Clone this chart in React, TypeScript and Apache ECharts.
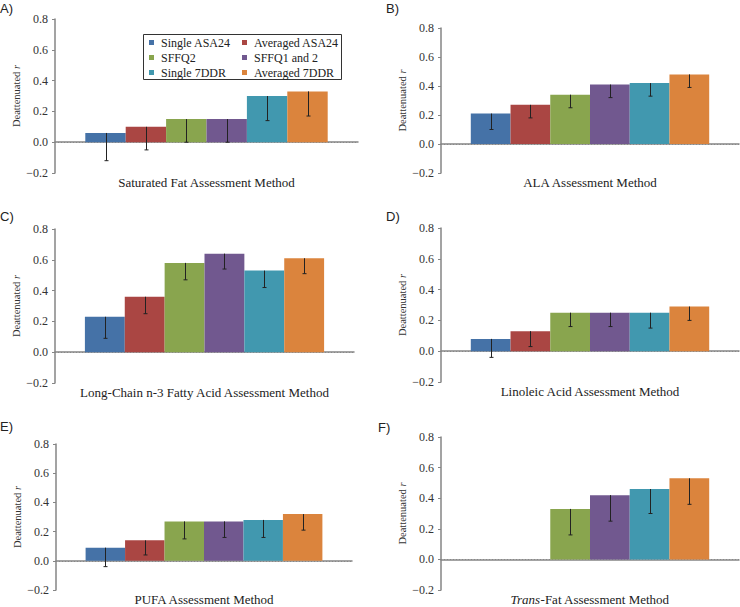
import React, { useEffect, useRef } from "react";
import * as echarts from "echarts";

const methods = ["Single ASA24", "Averaged ASA24", "SFFQ2", "SFFQ1 and 2", "Single 7DDR", "Averaged 7DDR"];
const colors = ["#4572A7", "#AA4643", "#89A54E", "#71588F", "#4198AF", "#DB843D"];

const panelLabels = ["A)", "B)", "C)", "D)", "E)", "F)"];
const axisTitles = [
  "Saturated Fat Assessment Method",
  "ALA Assessment Method",
  "Long-Chain n-3 Fatty Acid Assessment Method",
  "Linoleic Acid Assessment Method",
  "PUFA Assessment Method",
  "{i|Trans}-Fat Assessment Method",
];

// point estimates and lower CI bounds, per panel (null = not assessed)
const satFat = [0.06, 0.1, 0.15, 0.15, 0.3, 0.33];
const satFatLower = [-0.12, -0.05, 0.0, 0.0, 0.14, 0.17];
const ala = [0.21, 0.27, 0.34, 0.41, 0.42, 0.48];
const alaLower = [0.1, 0.18, 0.25, 0.32, 0.33, 0.39];
const lcn3 = [0.23, 0.36, 0.58, 0.64, 0.53, 0.61];
const lcn3Lower = [0.09, 0.25, 0.47, 0.54, 0.42, 0.51];
const linoleic = [0.08, 0.13, 0.25, 0.25, 0.25, 0.29];
const linoleicLower = [-0.04, 0.03, 0.16, 0.16, 0.15, 0.2];
const pufa = [0.09, 0.14, 0.27, 0.27, 0.28, 0.32];
const pufaLower = [-0.04, 0.04, 0.15, 0.16, 0.16, 0.21];
const transFat = [null, null, 0.33, 0.42, 0.46, 0.53];
const transFatLower = [null, null, 0.16, 0.25, 0.3, 0.36];

const panelValues = [satFat, ala, lcn3, linoleic, pufa, transFat];
const panelLower = [satFatLower, alaLower, lcn3Lower, linoleicLower, pufaLower, transFatLower];

const yMin = -0.2;
const yMax = 0.8;
const yStep = 0.2;

// layout
const grids = [
  { left: 55, top: 19, width: 303, height: 154 },
  { left: 441, top: 28, width: 298, height: 145 },
  { left: 55, top: 229, width: 299, height: 154 },
  { left: 441, top: 228, width: 298, height: 154 },
  { left: 56, top: 444, width: 296, height: 146 },
  { left: 441, top: 437, width: 298, height: 154 },
];
const labelPos = [
  [0, 8.5],
  [386, 8.5],
  [0, 216.7],
  [386, 216.7],
  [0, 426.7],
  [378, 427.5],
];

const SERIF = "Liberation Serif";
const SANS = "Liberation Sans";
const AXIS_COLOR = "#858585";

export default function App() {
  const ref = useRef<HTMLDivElement>(null);

  useEffect(() => {
    if (!ref.current) return;
    const chart = echarts.init(ref.current, undefined, { renderer: "svg" });

    const xAxes: any[] = [];
    const yAxes: any[] = [];
    const series: any[] = [];

    grids.forEach((g, k) => {
      xAxes.push({
        type: "category",
        gridIndex: k,
        data: ["method"],
        axisLabel: { show: false },
        axisTick: { show: false },
        axisLine: { lineStyle: { color: AXIS_COLOR, width: 1.5 } },
        name: axisTitles[k],
        nameLocation: "middle",
        nameGap: 3,
        nameTextStyle: {
          fontFamily: SERIF,
          fontSize: 13,
          color: "#222",
          rich: { i: { fontFamily: SERIF, fontSize: 13, fontStyle: "italic", color: "#222" } },
        },
      });
      yAxes.push({
        type: "value",
        gridIndex: k,
        min: yMin,
        max: yMax,
        interval: yStep,
        splitLine: { show: false },
        axisLine: { show: true, lineStyle: { color: AXIS_COLOR, width: 1.5 } },
        axisTick: { show: true, length: 3, lineStyle: { color: AXIS_COLOR } },
        axisLabel: {
          fontFamily: SERIF,
          fontSize: 12,
          color: "#333",
          margin: 7,
          formatter: (v: number) => (v < 0 ? "\u2212" + Math.abs(v).toFixed(1) : v.toFixed(1)),
        },
        name: "Deattenuated {i|r}",
        nameLocation: "middle",
        nameGap: 31,
        nameTextStyle: {
          fontFamily: SERIF,
          fontSize: 10.5,
          color: "#333",
          rich: { i: { fontFamily: SERIF, fontSize: 10.5, fontStyle: "italic", color: "#333" } },
        },
      });

      const vals = panelValues[k];
      const lows = panelLower[k];
      methods.forEach((m, j) => {
        const s: any = {
          type: "bar",
          name: m,
          xAxisIndex: k,
          yAxisIndex: k,
          barGap: "0%",
          barCategoryGap: "20%",
          itemStyle: { color: colors[j] },
          data: [vals[j] == null ? "-" : vals[j]],
          z: 2,
        };
        if (j === 0) {
          s.markLine = {
            silent: true,
            symbol: "none",
            label: { show: false },
            lineStyle: { type: [1, 2], color: "#888", width: 1 },
            data: [{ yAxis: 0 }],
            z: 1,
          };
        }
        series.push(s);
      });

      const errData: any[] = [];
      vals.forEach((v, j) => {
        if (v != null && lows[j] != null) errData.push([0, v, lows[j], j]);
      });
      series.push({
        type: "custom",
        xAxisIndex: k,
        yAxisIndex: k,
        z: 5,
        encode: { x: 0, y: 1 },
        data: errData,
        renderItem: (params: any, api: any) => {
          const idx = api.value(3);
          const band = api.size([1, 0])[0];
          const cx = api.coord([0, 0])[0];
          const bw = (band * 0.8) / methods.length;
          const x = Math.round(cx - band * 0.4 + (idx + 0.5) * bw) + 0.5;
          const yTop = api.coord([0, api.value(1)])[1];
          const yBot = api.coord([0, api.value(2)])[1];
          return {
            type: "group",
            children: [
              { type: "line", shape: { x1: x, y1: yTop, x2: x, y2: yBot }, style: { stroke: "#222", lineWidth: 1 } },
              { type: "line", shape: { x1: x - 2, y1: yBot, x2: x + 2, y2: yBot }, style: { stroke: "#222", lineWidth: 1 } },
            ],
          };
        },
      });
    });

    const graphic: any[] = panelLabels.map((t, k) => ({
      type: "text",
      x: labelPos[k][0],
      y: labelPos[k][1],
      style: { text: t, fontFamily: SANS, fontSize: 13, fill: "#222", verticalAlign: "middle" },
    }));
    graphic.push({
      type: "rect",
      shape: { x: 143.5, y: 34.5, width: 198, height: 45 },
      style: { fill: "#fff", stroke: "#333", lineWidth: 1 },
      z: 10,
    });

    const legendBase = {
      orient: "vertical",
      top: 35,
      padding: 0,
      itemWidth: 5,
      itemHeight: 5,
      itemGap: 0,
      icon: "rect",
      z: 20,
      textStyle: { fontFamily: SERIF, fontSize: 12, color: "#222", lineHeight: 15, padding: [0, 0, 0, 2] },
    };

    chart.setOption({
      animation: false,
      backgroundColor: "#fff",
      grid: grids.map((g) => ({ ...g, containLabel: false })),
      xAxis: xAxes,
      yAxis: yAxes,
      legend: [
        { ...legendBase, left: 149, data: [methods[0], methods[2], methods[4]] },
        { ...legendBase, left: 242, data: [methods[1], methods[3], methods[5]] },
      ],
      graphic,
      series,
    });

    return () => chart.dispose();
  }, []);

  return (
    <div
      ref={ref}
      style={{ position: "fixed", left: 0, top: 0, width: 740, height: 607, background: "#fff" }}
    />
  );
}
